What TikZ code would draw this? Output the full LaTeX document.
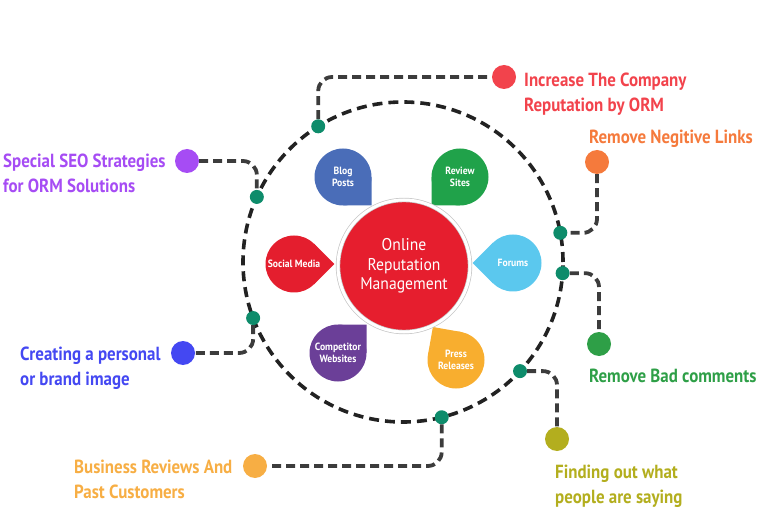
\documentclass[tikz,border=0pt]{standalone}
\usepackage{fontspec}
\setmainfont{PT Sans}
\newfontfamily\tagfont[FakeStretch=0.89]{PT Sans}
\newfontfamily\petalfont[FakeStretch=0.92]{PT Sans}
\usetikzlibrary{calc,backgrounds,positioning}

\definecolor{ringline}{HTML}{222222}
\definecolor{linkgrey}{HTML}{3C3C3C}
\definecolor{ringteal}{HTML}{0E8C6B}
\definecolor{ormred}{HTML}{E61E2E}
\definecolor{blogblue}{HTML}{4A6DB8}
\definecolor{reviewgreen}{HTML}{20A24A}
\definecolor{socialred}{HTML}{E41E2E}
\definecolor{forumblue}{HTML}{5BC8EE}
\definecolor{compurple}{HTML}{6B3F98}
\definecolor{pressorange}{HTML}{F8AE2F}
\definecolor{incred}{HTML}{F2434C}
\definecolor{negorange}{HTML}{F57A3C}
\definecolor{seopurple}{HTML}{A64CF4}
\definecolor{createblue}{HTML}{4448F2}
\definecolor{badgreen}{HTML}{2E9F47}
\definecolor{busyellow}{HTML}{F7AE44}
\definecolor{findolive}{HTML}{B3AE1E}

\tikzset{
    ringdot/.style={circle, fill=ringteal, minimum size=14pt, inner sep=0pt},
    bigdot/.style={circle, minimum size=24pt, inner sep=0pt},
    petal/.style={circle, minimum size=57pt, inner sep=0pt, text=white, align=center,
        font=\petalfont\bfseries\fontsize{10.5}{12}\selectfont},
    link/.style={draw=linkgrey, line width=3.8pt, dash pattern=on 9pt off 5pt, rounded corners=14pt},
    tagtext/.style={anchor=west, align=left, inner sep=0pt, font=\tagfont\bfseries\fontsize{19}{25}\selectfont},
}

\newcommand{\petaltip}[3]{\fill[#3] ($(#1)+(#2+45:28.5)$) -- ($(#1)+(#2:40.3)$) -- ($(#1)+(#2-45:28.5)$) -- cycle;}

\begin{document}
\begin{tikzpicture}[x=1pt, y=1pt]
            \useasboundingbox (0,0) rectangle (760,528);
            \coordinate (hub) at (403,266);
            \draw[ringline, line width=3.6pt, dash pattern=on 10pt off 6pt] (hub) circle (160);

            \node[circle, fill=ormred, minimum size=132pt, draw=gray!45, double=white, double distance=3pt,
                line width=0.7pt, text=white, align=center, font=\petalfont\fontsize{17}{19.5}\selectfont] (orm) at (404,262) {Online\\Reputation\\Management};

            \node[petal, fill=blogblue] (blog) at (343,351) {Blog\\Posts};
            \node[petal, fill=reviewgreen] (review) at (460,351) {Review\\Sites};
            \node[petal, fill=socialred] (social) at (294,264) {Social Media};
            \node[petal, fill=forumblue] (forums) at (513,265) {Forums};
            \node[petal, fill=compurple] (competitor) at (338,175) {Competitor\\Websites};
            \node[petal, fill=pressorange] (press) at (456,168) {Press\\Releases};

            \begin{pgfonlayer}{background}
                \petaltip{blog}{-45}{blogblue}
                \petaltip{review}{-135}{reviewgreen}
                \petaltip{social}{0}{socialred}
                \petaltip{forums}{180}{forumblue}
                \petaltip{competitor}{45}{compurple}
                \petaltip{press}{125}{pressorange}
            \end{pgfonlayer}

            \node[ringdot] (d122) at ($(hub)+(122:160)$) {};
            \node[ringdot] (d156) at ($(hub)+(156:160)$) {};
            \node[ringdot] (d200) at ($(hub)+(200.5:160)$) {};
            \node[ringdot] (d284) at ($(hub)+(284:160)$) {};
            \node[ringdot] (d317) at ($(hub)+(317:160)$) {};
            \node[ringdot] (d10) at ($(hub)+(10.5:160)$) {};
            \node[ringdot] (d356) at ($(hub)+(356:160)$) {};

            \node[bigdot, fill=incred] (incdot) at (504,451) {};
            \node[bigdot, fill=negorange] (negdot) at (597,366) {};
            \node[bigdot, fill=seopurple] (seodot) at (187,367) {};
            \node[bigdot, fill=createblue] (createdot) at (183,175) {};
            \node[bigdot, fill=badgreen] (baddot) at (599,184) {};
            \node[bigdot, fill=busyellow] (busdot) at (255,62) {};
            \node[bigdot, fill=findolive] (finddot) at (557,89) {};

            \node[tagtext, text=incred] (inc) at (524,434) {Increase The Company\\Reputation by ORM};
            \node[tagtext, text=negorange] (neg) at (589,389) {Remove Negitive Links};
            \node[tagtext, text=seopurple] (seo) at (3,355) {Special SEO Strategies\\for ORM Solutions};
            \node[tagtext, text=createblue] (create) at (20,160) {Creating a personal\\or brand image};
            \node[tagtext, text=badgreen] (bad) at (589,152) {Remove Bad comments};
            \node[tagtext, text=busyellow] (bus) at (74,49) {Business Reviews And\\Past Customers};
            \node[tagtext, text=findolive] (find) at (555,42) {Finding out what\\people are saying};

            \draw[link] (d122) |- (incdot);
            \draw[link] (seodot) -| (d156);
            \draw[link] (negdot) |- (d10);
            \draw[link] (d356) -| (baddot);
            \draw[link] (d317) -| (finddot);
            \draw[link] (d200) |- (createdot);
            \draw[link] (d284) |- (busdot);
\end{tikzpicture}
\end{document}
